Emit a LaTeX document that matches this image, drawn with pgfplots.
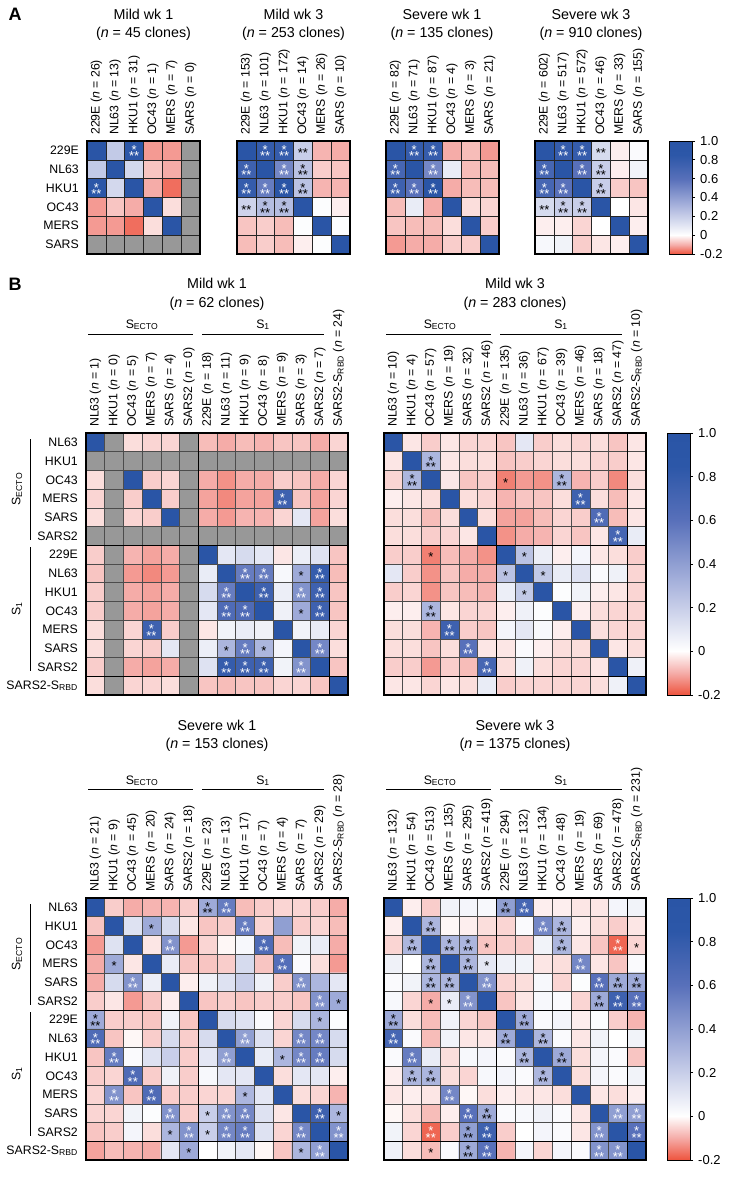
\documentclass[border=0pt]{standalone}
\usepackage{fontspec}
\setmainfont{Liberation Sans}
\usepackage{pgfplots}
\pgfplotsset{compat=1.18}

\newcommand\lab{\fontsize{12.3}{14}\selectfont}
\newcommand\ttlf{\fontsize{14.3}{17}\selectfont}
\newcommand\cbf{\fontsize{13}{15}\selectfont}
\newcommand\stf{\fontsize{13}{13}\selectfont}
\newcommand\nn[2]{#1 (\textit{n} = #2)}
\newcommand\rbd[1]{SARS2-S\textsubscript{RBD} (\textit{n} = #1)}
\newcommand\stars[1]{\ifcase#1\or\smash{\raisebox{-7.3pt}{*}}\or\smash{\raisebox{-7.3pt}{**}}\or\smash{\makebox[0pt]{\raisebox{-4pt}{*}}\makebox[0pt]{\raisebox{-10.5pt}{**}}}\fi}

\pgfplotsset{
 colormap={rwb}{rgb255(0pt)=(238,84,62) rgb255(10pt)=(245,172,168) rgb255(20pt)=(255,255,255) rgb255(30pt)=(228,231,244) rgb255(50pt)=(172,182,222) rgb255(80pt)=(88,112,186) rgb255(105pt)=(44,87,168) rgb255(120pt)=(42,85,166)},
 colormap={rwbg}{rgb255(0pt)=(152,152,152) rgb255(10pt)=(238,84,62) rgb255(20pt)=(245,172,168) rgb255(30pt)=(255,255,255) rgb255(40pt)=(228,231,244) rgb255(60pt)=(172,182,222) rgb255(90pt)=(88,112,186) rgb255(115pt)=(44,87,168) rgb255(130pt)=(42,85,166)},
 hmbase/.style={scale only axis, axis on top, enlargelimits=false, y dir=reverse,
   colormap name=rwbg, point meta min=-0.3, point meta max=1,
   major tick length=0pt, minor tick length=0pt,
   xticklabel pos=upper,
   xticklabel style={rotate=90, anchor=west, font=\lab, inner sep=0pt},
   xticklabel shift=6pt,
   yticklabel style={anchor=east, font=\lab, inner sep=0pt},
   yticklabel shift=8pt,
   xminorgrids=true, yminorgrids=true,
   axis line style={line width=1.5pt}, anchor=north west},
 hmA/.style={hmbase, width=113pt, height=113pt, xmin=-0.5, xmax=5.5, ymin=-0.5, ymax=5.5,
   xtick={0,...,5}, ytick={0,...,5},
   minor xtick={0.5,1.5,2.5,3.5,4.5}, minor ytick={0.5,1.5,2.5,3.5,4.5},
   minor grid style={black!85, line width=0.6pt}},
 hmB/.style={hmbase, width=262pt, height=262pt, xmin=-0.5, xmax=13.5, ymin=-0.5, ymax=13.5,
   xtick={0,...,13}, ytick={0,...,13},
   minor xtick={0.5,1.5,2.5,3.5,4.5,6.5,7.5,8.5,9.5,10.5,11.5},
   minor ytick={0.5,1.5,2.5,3.5,4.5,6.5,7.5,8.5,9.5,10.5,11.5},
   minor grid style={black!70, line width=0.5pt},
   extra x ticks={5.5,12.5}, extra y ticks={5.5,12.5},
   extra x tick labels={,}, extra y tick labels={,},
   extra tick style={grid=major, major grid style={black, line width=1.2pt}}},
}

\newcommand\hm[2]{\addplot[matrix plot*, mesh/cols=#1, point meta=explicit] table[row sep=\\, header=false, x expr={\coordindex-#1*floor((\coordindex+0.5)/#1)}, y expr={floor((\coordindex+0.5)/#1)}, meta index=0] {#2};}
\newcommand\st[2]{\addplot[only marks, mark=none, point meta=explicit symbolic, nodes near coords={\stars{\pgfplotspointmeta}}, nodes near coords align=center, every node near coord/.append style={text=#1, font=\stf, inner sep=0pt}] table[row sep=\\, meta=s] {x y s\\#2};}
\newcommand\cbar[3]{\begin{axis}[at={(#1pt,-#2pt)}, anchor=north west, scale only axis, width=23pt, height=#3pt,
  xmin=0, xmax=1, ymin=-0.2, ymax=1, enlargelimits=false, xtick=\empty,
  ytick={-0.2,0,0.2,0.4,0.6,0.8,1}, yticklabels={-0.2,0,0.2,0.4,0.6,0.8,1.0},
  ytick pos=right, yticklabel pos=right, ytick align=outside, major tick length=3pt,
  every tick/.style={black, line width=0.7pt}, axis line style={line width=0.9pt},
  colormap name=rwb, point meta min=-0.2, point meta max=1,
  yticklabel style={font=\cbf, inner sep=0pt}, yticklabel shift=5pt, axis on top]
\addplot[surf, shader=interp, point meta=y, mesh/cols=2] table[row sep=\\] {x y\\0 -0.2\\1 -0.2\\0 -0.1\\1 -0.1\\0 0\\1 0\\0 0.1\\1 0.1\\0 0.3\\1 0.3\\0 0.6\\1 0.6\\0 0.85\\1 0.85\\0 1\\1 1\\};
\end{axis}}

\begin{document}
\begin{tikzpicture}
\useasboundingbox (0,0) rectangle (729pt,-1180pt);

\node[font=\fontsize{18}{20}\selectfont\bfseries, anchor=base west] at (5pt,-21pt) {A};
\node[font=\fontsize{18}{20}\selectfont\bfseries, anchor=base west] at (5pt,-290pt) {B};

% ---------- Panel A titles
\node[font=\ttlf, anchor=base] at (143.5pt,-20pt) {Mild wk 1};
\node[font=\ttlf, anchor=base] at (143.5pt,-38pt) {(\textit{n} = 45 clones)};
\node[font=\ttlf, anchor=base] at (293.5pt,-20pt) {Mild wk 3};
\node[font=\ttlf, anchor=base] at (293.5pt,-38pt) {(\textit{n} = 253 clones)};
\node[font=\ttlf, anchor=base] at (442pt,-20pt) {Severe wk 1};
\node[font=\ttlf, anchor=base] at (442pt,-38pt) {(\textit{n} = 135 clones)};
\node[font=\ttlf, anchor=base] at (591pt,-20pt) {Severe wk 3};
\node[font=\ttlf, anchor=base] at (591pt,-38pt) {(\textit{n} = 910 clones)};

% ---------- Panel A heatmaps
\begin{axis}[hmA, at={(87pt,-141pt)},
  xticklabels={\nn{229E}{26},\nn{NL63}{13},\nn{HKU1}{31},\nn{OC43}{1},\nn{MERS}{7},\nn{SARS}{0}},
  yticklabels={229E,NL63,HKU1,OC43,MERS,SARS}]
\hm{6}{1\\0.22\\0.85\\-0.12\\-0.12\\-0.3\\
0.22\\1\\0.16\\-0.07\\-0.1\\-0.3\\
0.85\\0.16\\1\\-0.1\\-0.17\\-0.3\\
-0.12\\-0.07\\-0.1\\1\\-0.04\\-0.3\\
-0.12\\-0.12\\-0.17\\-0.04\\1\\-0.3\\
-0.3\\-0.3\\-0.3\\-0.3\\-0.3\\-0.3\\}
\st{white}{2 0 3\\0 2 3\\}
\end{axis}

\begin{axis}[hmA, at={(237pt,-141pt)},
  xticklabels={\nn{229E}{153},\nn{NL63}{101},\nn{HKU1}{172},\nn{OC43}{14},\nn{MERS}{26},\nn{SARS}{10}},
  yticklabels={}]
\hm{6}{1\\0.8\\0.8\\0.2\\-0.09\\-0.1\\
0.75\\1\\0.5\\0.25\\-0.06\\-0.07\\
0.8\\0.55\\1\\0.25\\-0.09\\-0.09\\
0.18\\0.27\\0.27\\1\\0.01\\-0.02\\
-0.07\\-0.06\\-0.08\\0.01\\1\\0.01\\
-0.08\\-0.06\\-0.08\\-0.02\\0.01\\1\\}
\st{white}{1 0 3\\2 0 3\\0 1 3\\2 1 3\\0 2 3\\1 2 3\\2 2 3\\}
\st{black}{3 0 2\\3 1 3\\3 2 3\\0 3 2\\1 3 3\\2 3 3\\}
\end{axis}

\begin{axis}[hmA, at={(386pt,-141pt)},
  xticklabels={\nn{229E}{82},\nn{NL63}{71},\nn{HKU1}{87},\nn{OC43}{4},\nn{MERS}{3},\nn{SARS}{21}},
  yticklabels={}]
\hm{6}{1\\0.8\\0.8\\-0.1\\-0.08\\-0.12\\
0.7\\1\\0.5\\0.08\\-0.08\\-0.08\\
0.75\\0.6\\1\\-0.1\\-0.08\\-0.08\\
-0.08\\0.08\\-0.1\\1\\-0.04\\-0.05\\
-0.07\\-0.08\\-0.08\\-0.04\\1\\-0.06\\
-0.12\\-0.1\\-0.1\\-0.06\\-0.06\\1\\}
\st{white}{1 0 3\\2 0 3\\0 1 3\\2 1 3\\0 2 3\\1 2 3\\2 2 3\\}
\end{axis}

\begin{axis}[hmA, at={(535pt,-141pt)},
  xticklabels={\nn{229E}{602},\nn{NL63}{517},\nn{HKU1}{572},\nn{OC43}{46},\nn{MERS}{33},\nn{SARS}{155}},
  yticklabels={}]
\hm{6}{1\\0.8\\0.8\\0.15\\-0.02\\0.02\\
0.7\\1\\0.6\\0.2\\-0.02\\0.05\\
0.7\\0.6\\1\\0.2\\-0.06\\-0.07\\
0.15\\0.2\\0.2\\1\\0\\-0.03\\
-0.02\\-0.02\\-0.05\\0\\1\\-0.02\\
0.03\\0.05\\-0.06\\-0.03\\-0.02\\1\\}
\st{white}{1 0 3\\2 0 3\\0 1 3\\2 1 3\\0 2 3\\1 2 3\\}
\st{black}{3 0 2\\3 1 3\\3 2 3\\0 3 2\\1 3 3\\2 3 3\\}
\end{axis}

\cbar{669}{141}{113}

% ---------- Panel B titles and group headers
\node[font=\ttlf, anchor=base] at (217pt,-288pt) {Mild wk 1};
\node[font=\ttlf, anchor=base] at (217pt,-307pt) {(\textit{n} = 62 clones)};
\node[font=\ttlf, anchor=base] at (515pt,-288pt) {Mild wk 3};
\node[font=\ttlf, anchor=base] at (515pt,-307pt) {(\textit{n} = 283 clones)};
\node[font=\ttlf, anchor=base] at (217pt,-730pt) {Severe wk 1};
\node[font=\ttlf, anchor=base] at (217pt,-748pt) {(\textit{n} = 153 clones)};
\node[font=\ttlf, anchor=base] at (515pt,-730pt) {Severe wk 3};
\node[font=\ttlf, anchor=base] at (515pt,-748pt) {(\textit{n} = 1375 clones)};

\foreach \xo/\yb/\yl in {86/328/334, 384/328/334, 86/784/789, 384/784/789}{
  \node[font=\lab, anchor=base] at ({(\xo+56)*1pt},-\yb pt) {S\textsubscript{ECTO}};
  \node[font=\lab, anchor=base] at ({(\xo+177)*1pt},-\yb pt) {S\textsubscript{1}};
  \draw[line width=0.8pt] ({(\xo+2)*1pt},-\yl pt) -- ({(\xo+107)*1pt},-\yl pt);
  \draw[line width=0.8pt] ({(\xo+116)*1pt},-\yl pt) -- ({(\xo+238)*1pt},-\yl pt);
}
\foreach \yo in {433, 898}{
  \draw[line width=0.8pt] (30pt,{-(\yo+6)*1pt}) -- (30pt,{-(\yo+107)*1pt});
  \draw[line width=0.8pt] (30pt,{-(\yo+114)*1pt}) -- (30pt,{-(\yo+238)*1pt});
  \node[font=\lab, rotate=90] at (17pt,{-(\yo+56)*1pt}) {S\textsubscript{ECTO}};
  \node[font=\lab, rotate=90] at (17pt,{-(\yo+176)*1pt}) {S\textsubscript{1}};
}

% ---------- Panel B: Mild wk 1
\begin{axis}[hmB, at={(86pt,-433pt)},
  xticklabels={\nn{NL63}{1},\nn{HKU1}{0},\nn{OC43}{5},\nn{MERS}{7},\nn{SARS}{4},\nn{SARS2}{0},\nn{229E}{18},\nn{NL63}{11},\nn{HKU1}{9},\nn{OC43}{8},\nn{MERS}{9},\nn{SARS}{3},\nn{SARS2}{7},\rbd{24}},
  yticklabels={NL63,HKU1,OC43,MERS,SARS,SARS2,229E,NL63,HKU1,OC43,MERS,SARS,SARS2,SARS2-S\textsubscript{RBD}}]
\hm{14}{1\\-0.3\\-0.04\\-0.05\\-0.05\\-0.3\\-0.08\\-0.1\\-0.08\\-0.09\\-0.07\\-0.07\\-0.1\\-0.05\\
-0.3\\-0.3\\-0.3\\-0.3\\-0.3\\-0.3\\-0.3\\-0.3\\-0.3\\-0.3\\-0.3\\-0.3\\-0.3\\-0.3\\
-0.04\\-0.3\\1\\-0.06\\-0.05\\-0.3\\-0.1\\-0.13\\-0.1\\-0.1\\-0.06\\-0.07\\-0.1\\-0.05\\
-0.05\\-0.3\\-0.06\\1\\-0.06\\-0.3\\-0.11\\-0.14\\-0.11\\-0.11\\0.75\\-0.07\\-0.11\\-0.05\\
-0.04\\-0.3\\-0.05\\-0.06\\1\\-0.3\\-0.1\\-0.12\\-0.09\\-0.09\\-0.05\\0.1\\-0.11\\-0.04\\
-0.3\\-0.3\\-0.3\\-0.3\\-0.3\\-0.3\\-0.3\\-0.3\\-0.3\\-0.3\\-0.3\\-0.3\\-0.3\\-0.3\\
-0.06\\-0.3\\-0.09\\-0.11\\-0.1\\-0.3\\1\\0.1\\0.15\\0.1\\-0.03\\0.07\\0.12\\-0.07\\
-0.07\\-0.3\\-0.12\\-0.14\\-0.12\\-0.3\\0.08\\1\\0.55\\0.55\\0.03\\0.35\\0.8\\-0.08\\
-0.06\\-0.3\\-0.1\\-0.11\\-0.1\\-0.3\\0.15\\0.55\\1\\0.75\\0.07\\0.45\\0.75\\-0.07\\
-0.06\\-0.3\\-0.1\\-0.11\\-0.1\\-0.3\\0.1\\0.65\\0.65\\1\\0.06\\0.35\\0.75\\-0.07\\
-0.04\\-0.3\\-0.05\\0.75\\-0.06\\-0.3\\-0.03\\0.05\\0.08\\0.06\\1\\0.05\\0.08\\-0.05\\
-0.04\\-0.3\\-0.05\\-0.06\\0.1\\-0.3\\0.07\\0.3\\0.55\\0.3\\0.04\\1\\0.5\\-0.04\\
-0.06\\-0.3\\-0.1\\-0.11\\-0.1\\-0.3\\0.12\\0.8\\0.75\\0.75\\0.05\\0.45\\1\\-0.07\\
-0.04\\-0.3\\-0.05\\-0.05\\-0.04\\-0.3\\-0.07\\-0.08\\-0.07\\-0.07\\-0.05\\-0.05\\-0.07\\1\\}
\st{white}{10 3 3\\8 7 3\\9 7 3\\12 7 3\\7 8 3\\9 8 3\\11 8 3\\12 8 3\\7 9 3\\8 9 3\\12 9 3\\3 10 3\\8 11 3\\12 11 3\\7 12 3\\8 12 3\\9 12 3\\11 12 3\\}
\st{black}{11 7 1\\11 9 1\\7 11 1\\9 11 1\\}
\end{axis}

% ---------- Panel B: Mild wk 3
\begin{axis}[hmB, at={(384pt,-433pt)},
  xticklabels={\nn{NL63}{10},\nn{HKU1}{4},\nn{OC43}{57},\nn{MERS}{19},\nn{SARS}{32},\nn{SARS2}{46},\nn{229E}{135},\nn{NL63}{36},\nn{HKU1}{67},\nn{OC43}{39},\nn{MERS}{46},\nn{SARS}{18},\nn{SARS2}{47},\rbd{10}},
  yticklabels={}]
\hm{14}{1\\-0.03\\-0.06\\-0.03\\-0.05\\-0.05\\-0.07\\0.1\\-0.06\\-0.04\\-0.05\\-0.04\\-0.07\\-0.03\\
-0.03\\1\\0.3\\-0.03\\-0.04\\-0.04\\-0.07\\-0.06\\-0.05\\-0.04\\-0.04\\-0.05\\-0.06\\-0.03\\
-0.05\\0.3\\1\\-0.03\\-0.07\\-0.06\\-0.15\\-0.12\\-0.13\\0.3\\-0.09\\-0.06\\-0.14\\-0.04\\
-0.02\\-0.03\\-0.04\\1\\-0.04\\-0.05\\-0.09\\-0.07\\-0.07\\-0.04\\0.75\\-0.04\\-0.08\\-0.03\\
-0.04\\-0.04\\-0.08\\-0.04\\1\\-0.04\\-0.11\\-0.11\\-0.08\\-0.05\\-0.06\\0.65\\-0.08\\-0.03\\
-0.04\\-0.04\\-0.06\\-0.05\\-0.03\\1\\-0.13\\-0.1\\-0.09\\-0.05\\-0.07\\-0.03\\0.7\\0.08\\
-0.06\\-0.06\\-0.15\\-0.08\\-0.1\\-0.13\\1\\0.25\\0.07\\-0.02\\0.04\\-0.03\\-0.04\\-0.06\\
0.1\\-0.06\\-0.13\\-0.07\\-0.1\\-0.1\\0.25\\1\\0.22\\0.08\\0.12\\0.02\\0.06\\-0.05\\
-0.06\\-0.05\\-0.13\\-0.07\\-0.08\\-0.09\\0.07\\0.22\\1\\0.01\\0.05\\-0.02\\-0.03\\-0.05\\
-0.02\\-0.02\\0.3\\-0.03\\-0.05\\-0.05\\-0.02\\0.06\\0.01\\1\\-0.02\\-0.04\\-0.05\\-0.05\\
-0.04\\-0.04\\-0.09\\0.75\\-0.06\\-0.07\\0.04\\0.1\\0.03\\-0.02\\1\\-0.04\\-0.05\\-0.05\\
-0.04\\-0.04\\-0.07\\-0.04\\0.6\\-0.03\\-0.03\\0.02\\-0.02\\-0.04\\-0.04\\1\\-0.03\\-0.04\\
-0.06\\-0.06\\-0.12\\-0.06\\-0.08\\0.7\\-0.04\\0.06\\-0.04\\-0.05\\-0.05\\-0.03\\1\\0.06\\
-0.03\\-0.03\\-0.05\\-0.03\\-0.04\\0.08\\-0.06\\-0.05\\-0.05\\-0.05\\-0.05\\-0.04\\0.06\\1\\}
\st{white}{10 3 3\\11 4 3\\12 5 3\\3 10 3\\4 11 3\\5 12 3\\}
\st{black}{2 1 3\\1 2 3\\6 2 1\\9 2 3\\2 6 1\\7 6 1\\6 7 1\\8 7 1\\7 8 1\\2 9 3\\}
\end{axis}

\cbar{667}{433}{262}

% ---------- Panel B: Severe wk 1
\begin{axis}[hmB, at={(86pt,-898pt)},
  xticklabels={\nn{NL63}{21},\nn{HKU1}{9},\nn{OC43}{45},\nn{MERS}{20},\nn{SARS}{24},\nn{SARS2}{18},\nn{229E}{23},\nn{NL63}{13},\nn{HKU1}{17},\nn{OC43}{7},\nn{MERS}{4},\nn{SARS}{7},\nn{SARS2}{29},\rbd{28}},
  yticklabels={NL63,HKU1,OC43,MERS,SARS,SARS2,229E,NL63,HKU1,OC43,MERS,SARS,SARS2,SARS2-S\textsubscript{RBD}}]
\hm{14}{1\\-0.06\\-0.1\\-0.09\\-0.09\\-0.06\\0.35\\0.55\\-0.08\\-0.06\\-0.05\\-0.05\\-0.06\\-0.1\\
-0.07\\1\\0.12\\0.35\\0.15\\-0.03\\-0.07\\-0.06\\0.55\\-0.05\\0.4\\-0.06\\-0.05\\-0.08\\
-0.12\\0.12\\1\\-0.03\\0.45\\-0.12\\-0.05\\-0.01\\0.03\\0.65\\-0.08\\0.05\\0.08\\-0.1\\
-0.1\\0.35\\-0.03\\1\\0.08\\-0.07\\-0.07\\-0.06\\0.15\\-0.07\\0.62\\0.02\\-0.04\\-0.12\\
-0.1\\0.15\\0.45\\0.07\\1\\-0.02\\0.06\\0.12\\0.2\\0.06\\-0.06\\0.45\\0.3\\0.1\\
-0.06\\-0.03\\-0.12\\-0.07\\-0.02\\1\\-0.07\\-0.06\\-0.07\\-0.06\\-0.06\\-0.07\\0.45\\0.35\\
0.35\\-0.06\\-0.06\\-0.07\\0.05\\-0.07\\1\\0.15\\0.12\\0.02\\-0.05\\0.15\\0.3\\0.01\\
0.65\\-0.07\\-0.01\\-0.06\\0.15\\-0.06\\0.15\\1\\0.4\\0.12\\-0.05\\0.5\\0.5\\0.15\\
-0.07\\0.55\\0.02\\0.12\\0.2\\-0.06\\0.1\\0.4\\1\\0.08\\0.3\\0.5\\0.55\\0.15\\
-0.06\\-0.05\\0.65\\-0.06\\0.06\\-0.06\\0.03\\0.1\\0.1\\1\\-0.04\\0.1\\0.1\\-0.02\\
-0.05\\0.45\\-0.07\\0.65\\-0.06\\-0.06\\-0.05\\-0.05\\0.3\\0.1\\1\\-0.04\\-0.05\\-0.09\\
-0.05\\-0.05\\0.05\\0.01\\0.45\\-0.06\\0.2\\0.45\\0.5\\0.12\\-0.03\\1\\0.75\\0.3\\
-0.07\\-0.06\\0.04\\-0.04\\0.3\\0.45\\0.2\\0.5\\0.55\\0.12\\-0.05\\0.5\\1\\0.45\\
-0.11\\-0.08\\-0.09\\-0.1\\0.1\\0.35\\0\\0.05\\0.1\\-0.01\\-0.07\\0.3\\0.4\\1\\}
\st{white}{7 0 3\\8 1 3\\4 2 3\\9 2 3\\10 3 3\\2 4 3\\11 4 3\\12 5 3\\0 7 3\\8 7 3\\11 7 3\\12 7 3\\1 8 3\\7 8 3\\11 8 3\\12 8 3\\2 9 3\\1 10 3\\3 10 3\\4 11 3\\7 11 3\\8 11 3\\12 11 3\\5 12 3\\7 12 3\\8 12 3\\11 12 3\\13 12 3\\12 13 3\\}
\st{black}{6 0 3\\3 1 1\\1 3 1\\13 5 1\\0 6 3\\12 6 1\\10 8 1\\8 10 1\\6 11 1\\13 11 1\\4 12 1\\6 12 1\\5 13 1\\11 13 1\\}
\end{axis}

% ---------- Panel B: Severe wk 3
\begin{axis}[hmB, at={(384pt,-898pt)},
  xticklabels={\nn{NL63}{132},\nn{HKU1}{54},\nn{OC43}{513},\nn{MERS}{135},\nn{SARS}{295},\nn{SARS2}{419},\nn{229E}{294},\nn{NL63}{132},\nn{HKU1}{134},\nn{OC43}{48},\nn{MERS}{19},\nn{SARS}{69},\nn{SARS2}{478},\rbd{231}},
  yticklabels={}]
\hm{14}{1\\-0.02\\-0.06\\0.05\\0.04\\0.03\\0.4\\0.7\\-0.02\\-0.02\\-0.03\\-0.03\\0.04\\0.05\\
-0.02\\1\\0.3\\-0.01\\-0.02\\-0.04\\-0.05\\0.02\\0.5\\0.3\\-0.02\\-0.04\\-0.06\\-0.03\\
-0.05\\0.3\\1\\0.3\\0.3\\-0.07\\-0.06\\-0.06\\0.05\\0.3\\-0.03\\-0.07\\-0.18\\-0.05\\
0.06\\0\\0.3\\1\\0.3\\0.1\\0.06\\0.05\\-0.03\\-0.04\\0.5\\-0.03\\-0.07\\0.02\\
0.02\\0.05\\0.3\\0.3\\1\\0.45\\-0.05\\-0.04\\0.03\\-0.05\\0.01\\0.6\\0.35\\0.35\\
0.03\\-0.05\\-0.1\\0.08\\0.45\\1\\-0.07\\-0.03\\0.03\\0.02\\-0.05\\0.35\\0.75\\0.6\\
0.35\\-0.04\\-0.08\\0.05\\-0.05\\-0.07\\1\\0.35\\0.02\\0.04\\-0.02\\0.01\\-0.06\\-0.09\\
0.7\\0.02\\-0.08\\0.05\\-0.03\\-0.03\\0.35\\1\\0.3\\0.02\\-0.03\\0.05\\0\\0.05\\
0.02\\0.55\\0.08\\-0.04\\0.03\\0.04\\0.02\\0.3\\1\\0.35\\-0.04\\0.04\\0.02\\-0.07\\
-0.02\\0.3\\0.3\\-0.04\\-0.05\\0.03\\0.04\\0.02\\0.3\\1\\-0.04\\0.04\\0.02\\0.05\\
-0.03\\-0.02\\-0.03\\0.5\\-0.01\\-0.04\\-0.02\\-0.03\\-0.03\\-0.04\\1\\-0.03\\-0.04\\-0.02\\
-0.01\\-0.04\\-0.08\\-0.02\\0.6\\0.35\\0.02\\0.03\\0.06\\0.02\\-0.03\\1\\0.4\\0.4\\
0.05\\-0.05\\-0.18\\-0.06\\0.4\\0.75\\-0.06\\0\\0.04\\0.02\\-0.03\\0.45\\1\\0.6\\
0.06\\-0.04\\-0.08\\0.02\\0.35\\0.6\\-0.09\\0.04\\-0.05\\0.04\\0.02\\0.45\\0.45\\1\\}
\st{white}{7 0 3\\8 1 3\\12 2 3\\10 3 3\\5 4 3\\11 4 3\\4 5 3\\12 5 3\\13 5 3\\0 7 3\\1 8 3\\3 10 3\\4 11 3\\12 11 3\\13 11 3\\2 12 3\\5 12 3\\11 12 3\\13 12 3\\5 13 3\\11 13 3\\12 13 3\\}
\st{black}{6 0 3\\2 1 3\\9 1 3\\1 2 3\\3 2 3\\4 2 3\\5 2 1\\9 2 3\\13 2 1\\2 3 3\\4 3 3\\5 3 1\\2 4 3\\3 4 3\\12 4 3\\13 4 3\\2 5 1\\3 5 1\\11 5 3\\0 6 3\\7 6 3\\6 7 3\\8 7 3\\7 8 3\\9 8 3\\1 9 3\\2 9 3\\8 9 3\\5 11 3\\4 12 3\\2 13 1\\4 13 3\\}
\end{axis}

\cbar{667}{898}{262}
\end{tikzpicture}
\end{document}
